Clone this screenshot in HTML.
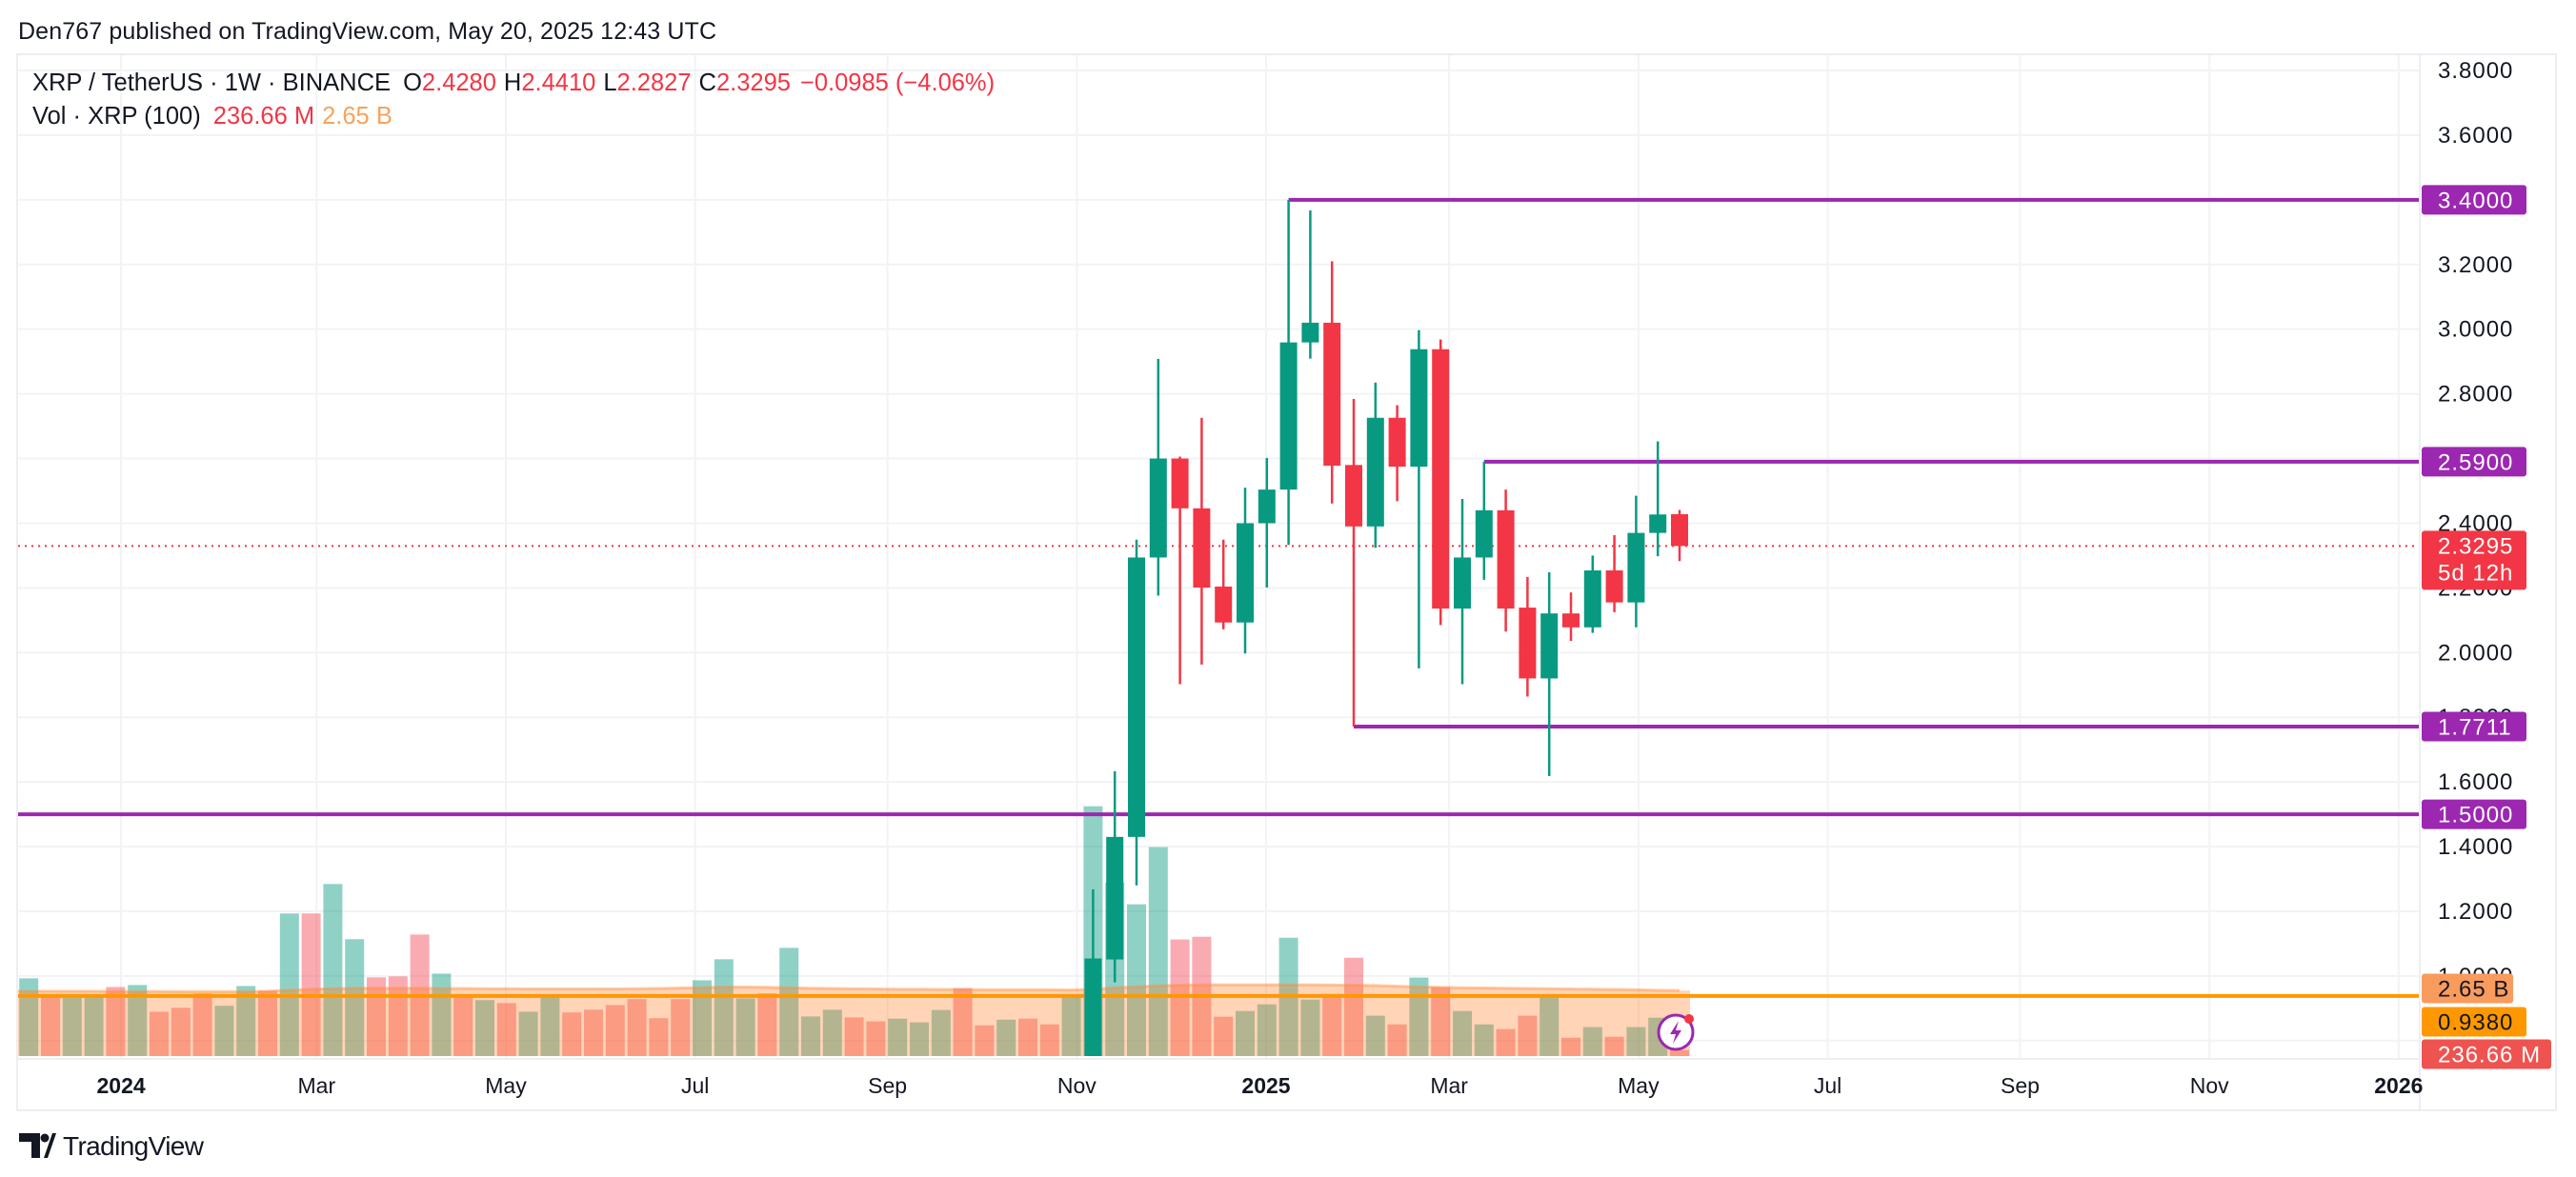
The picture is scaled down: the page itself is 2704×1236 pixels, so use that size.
<!DOCTYPE html>
<html><head><meta charset="utf-8"><style>
html,body{margin:0;padding:0;background:#fff;width:2704px;height:1236px;overflow:hidden}
svg{display:block;font-family:"Liberation Sans",sans-serif}
</style></head><body>
<svg id="c" width="2704" height="1236" viewBox="0 0 2704 1236">
<text x="19" y="41" font-size="25" fill="#131722" textLength="733">Den767 published on TradingView.com, May 20, 2025 12:43 UTC</text>
<rect x="18" y="57" width="2665" height="1109" fill="none" stroke="#eceef2" stroke-width="2"/>
<line x1="2540" y1="57" x2="2540" y2="1166" stroke="#eceef2" stroke-width="2"/>
<line x1="18" y1="1112" x2="2540" y2="1112" stroke="#eceef2" stroke-width="2"/>
<defs><clipPath id="plot"><rect x="19" y="58" width="2520" height="1051"/></clipPath></defs>
<g id="grid"></g>
<g id="vol" clip-path="url(#plot)"></g>
<g id="lines" clip-path="url(#plot)"></g>
<g id="candles" clip-path="url(#plot)"></g>
<g id="axis"></g>
<g>
<text x="34" y="95" font-size="25.5" fill="#131722">XRP / TetherUS · 1W · BINANCE <tspan dx="6">O</tspan><tspan fill="#f23645">2.4280</tspan><tspan dx="8">H</tspan><tspan fill="#f23645">2.4410</tspan><tspan dx="8">L</tspan><tspan fill="#f23645">2.2827</tspan><tspan dx="8">C</tspan><tspan fill="#f23645">2.3295</tspan><tspan dx="10" fill="#f23645">−0.0985 (−4.06%)</tspan></text>
<text x="34" y="130" font-size="25.5" fill="#131722">Vol · XRP (100) <tspan dx="6" fill="#f23645">236.66 M</tspan><tspan dx="8" fill="#f7a35c">2.65 B</tspan></text>
</g>
<g>
<path d="M20 1190h22v26h-9v-17h-13z" fill="#131722"/><circle cx="47" cy="1195" r="4.5" fill="#131722"/><path d="M46 1216l9-26h4l-9 26z" fill="#131722"/>
<text x="66" y="1213" font-size="28" fill="#131722" textLength="148">TradingView</text>
</g>
<g>
<circle cx="1759" cy="1084" r="18" fill="#fff" stroke="#9c27b0" stroke-width="3"/>
<path d="M1762 1072l-9 14h6l-3 10 9-14h-6z" fill="#9c27b0"/>
<circle cx="1773" cy="1070" r="5" fill="#f23645"/>
</g>
</svg>
<script>
const candleStart = -1;
const opens  = [0.56,1.051,1.43,2.294,2.600,2.446,2.204,2.093,2.400,2.504,2.959,3.020,2.580,2.390,2.726,2.575,2.938,2.136,2.294,2.440,2.139,1.920,2.121,2.078,2.254,2.155,2.370,2.428];
const highs  = [1.268,1.633,2.349,2.908,2.606,2.726,2.349,2.510,2.602,3.400,3.367,3.210,2.784,2.835,2.765,2.997,2.968,2.475,2.590,2.504,2.234,2.248,2.186,2.300,2.363,2.485,2.653,2.441];
const lows   = [0.50,0.98,1.28,2.176,1.902,1.963,2.072,1.997,2.201,2.333,2.909,2.461,1.771,2.324,2.468,1.951,2.085,1.902,2.225,2.065,1.864,1.618,2.036,2.061,2.125,2.078,2.298,2.2827];
const closes = [1.054,1.430,2.294,2.600,2.446,2.201,2.093,2.400,2.504,2.959,3.020,2.578,2.390,2.726,2.575,2.938,2.136,2.294,2.440,2.136,1.920,2.121,2.078,2.254,2.155,2.370,2.427,2.3295];
const volStart = -51;
const volumes = [1.72,3.14,2.44,2.37,2.49,2.79,2.87,1.79,1.95,2.53,2.03,2.83,2.64,5.76,5.76,6.95,4.72,3.18,3.22,4.91,3.33,2.41,2.26,2.14,1.79,2.37,1.76,1.87,2.06,2.30,1.53,2.30,3.06,3.91,2.33,2.53,4.37,1.60,1.87,1.56,
 1.40,1.51,1.36,1.86,2.74,1.24,1.47,1.51,1.28,2.44,10.09,7.01,6.13,8.44,4.71,4.82,1.59,1.82,2.09,4.78,2.28,2.51,3.97,1.63,1.28,3.17,2.78,1.82,1.28,1.09,1.63,2.47,0.74,1.17,0.78,1.17,1.55,0.24];
const volUp = [1,1,0,1,1,0,1,0,0,0,1,1,0,1,0,1,1,0,0,0,1,0,1,0,1,1,0,0,0,0,0,0,1,1,1,0,1,1,1,0,
 0,1,1,1,0,0,1,0,0,1,1,1,1,1,0,0,0,1,1,1,1,0,0,1,0,1,0,1,1,0,0,1,0,1,0,1,1,0];
const volMA = [2.62,2.62,2.62,2.62,2.62,2.61,2.61,2.61,2.60,2.60,2.60,2.60,2.62,2.66,
 2.70,2.72,2.74,2.74,2.74,2.74,2.73,2.73,2.72,2.72,2.71,2.71,2.71,
 2.71,2.71,2.72,2.73,2.75,2.77,2.79,2.79,2.78,2.76,2.74,2.73,2.72,
 2.71,2.70,2.70,2.69,2.69,2.68,2.68,2.68,2.68,2.67,2.70,
 2.76,2.80,2.84,2.86,2.88,2.88,2.88,2.88,2.88,2.88,2.87,2.86,2.85,
 2.82,2.80,2.78,2.76,2.75,2.74,2.73,2.72,2.71,2.70,2.69,2.68,2.66,2.65];
const priceTicks = [3.8,3.6,3.4,3.2,3.0,2.8,2.6,2.4,2.2,2.0,1.8,1.6,1.4,1.2,1.0,0.8];
const timeLabels = ["2024","Mar","May","Jul","Sep","Nov","2025","Mar","May","Jul","Sep","Nov","2026"];
const timeDays = [-369,-306,-245,-184,-122,-61,0,59,120,181,243,304,365];
const timeBold = [1,0,0,0,0,0,1,0,0,0,0,0,1];
const levels = [3.4,2.59,1.7711,1.5];
const levelLabels = ["3.4000","2.5900","1.7711","1.5000"];
const levelStartIdx = [8,17,11,null];
const lastPrice = 2.3295;
const maLevel = 0.938;

const NS="http://www.w3.org/2000/svg";
const y = p => 74 + (3.8 - p) * 339.6;
const x = i => 1193 + (i - 1) * 22.8;
const xd = d => 1329 + d * 22.8 / 7;
const VB = 1109, vy = v => VB - v * 26;
function mk(tag, attrs, parent){const e=document.createElementNS(NS,tag);for(const k in attrs)e.setAttribute(k,attrs[k]);parent.appendChild(e);return e;}
const G=id=>document.getElementById(id);

priceTicks.forEach(p=>{const l=mk('line',{x1:19,x2:2539,y1:y(p),y2:y(p),stroke:'#f2f3f5','stroke-width':2},G('grid'));

});
timeDays.forEach(d=>{const l=mk('line',{x1:xd(d),x2:xd(d),y1:58,y2:1111,stroke:'#f2f3f5','stroke-width':2},G('grid'));

});

volumes.forEach((v,k)=>{const i=volStart+k;
 const r=mk('rect',{x:x(i)-10,y:vy(v),width:20,height:v*26,fill:volUp[k]?'rgba(8,153,129,0.45)':'rgba(242,54,69,0.42)'},G('vol'));
 
 });
let d='M'+(x(volStart)-11)+' '+VB;
volMA.forEach((m,k)=>{d+=' L'+x(volStart+k)+' '+vy(m);});
d+=' L'+(x(volStart+volMA.length-1)+11)+' '+vy(volMA[volMA.length-1])+' L'+(x(volStart+volMA.length-1)+11)+' '+VB+'Z';
const area=mk('path',{d:d,fill:'rgba(255,120,30,0.32)'},G('vol'));


let dl='';volMA.forEach((m,k)=>{dl+=(k?' L':'M')+x(volStart+k)+' '+vy(m);});
const mal=mk('path',{d:dl,fill:'none',stroke:'rgba(255,140,60,0.45)','stroke-width':3},G('vol'));



const ol=mk('line',{x1:19,x2:2539,y1:y(maLevel),y2:y(maLevel),stroke:'#ff9800','stroke-width':4},G('lines'));


const dl2=mk('line',{x1:19,x2:2539,y1:y(lastPrice),y2:y(lastPrice),stroke:'#f23645','stroke-width':2,'stroke-dasharray':'2 5'},G('lines'));


levels.forEach((p,k)=>{const s=levelStartIdx[k]===null?19:x(levelStartIdx[k]);
 const l=mk('line',{x1:s,x2:2539,y1:y(p),y2:y(p),stroke:'#9c27b0','stroke-width':4},G('lines'));
 
 });

opens.forEach((o,k)=>{const i=candleStart+k,c=closes[k],up=c>=o,col=up?'#089981':'#f23645';
 const g=mk('g',{},G('candles'));
 
 
 mk('line',{x1:x(i),x2:x(i),y1:y(highs[k]),y2:y(lows[k]),stroke:col,'stroke-width':2.5},g);
 const t=y(Math.max(o,c)),b=y(Math.min(o,c));
 mk('rect',{x:x(i)-9,y:t,width:18,height:Math.max(2,b-t),fill:col},g);});

const ax=G('axis');
priceTicks.forEach(p=>{if(p<1)return;const t=mk('text',{x:2559,y:y(p)+8,'font-size':24,fill:'#131722','letter-spacing':'1'},ax);t.textContent=p.toFixed(4);
 
 });
timeLabels.forEach((s,k)=>{const t=mk('text',{x:xd(timeDays[k]),y:1148,'font-size':23,'text-anchor':'middle',fill:'#131722','font-weight':timeBold[k]?'bold':'normal'},ax);t.textContent=s;
 
 });
function tag(py,h,w,bg,fg,lines,name){const g=mk('g',{},ax);
 
 
 mk('rect',{x:2542,y:py-h/2,width:w,height:h,rx:3,fill:bg},g);
 lines.forEach((s,j)=>{const t=mk('text',{x:2559,y:py-h/2+24+j*28,'font-size':24,fill:fg,'letter-spacing':'1'},g);t.textContent=s;});}
levels.forEach((p,k)=>tag(y(p),31,110,'#9c27b0','#fff',[levelLabels[k]],'level-price-tag'));
tag(y(lastPrice)+15,62,110,'#f23645','#fff',['2.3295','5d 12h'],'last-price-tag');
tag(1038,31,96,'#f89b5c','#131722',['2.65 B'],'volume-ma-tag');
tag(1073,31,110,'#ff9800','#131722',['0.9380'],'orange-level-tag');
tag(1107,31,136,'#ef5350','#fff',['236.66 M'],'volume-tag');
</script>
</body></html>
